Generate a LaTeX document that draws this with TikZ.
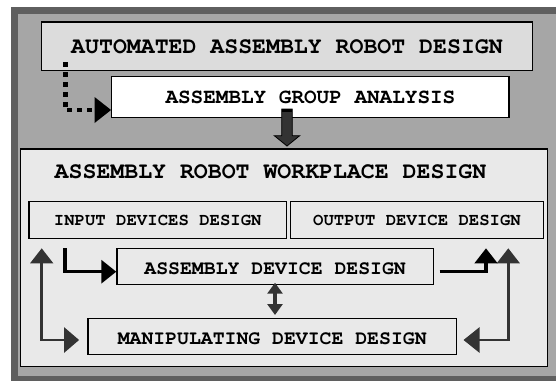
\documentclass[tikz,border=0pt]{standalone}
\usepackage{fontspec}
\setmonofont{TeX Gyre Cursor}
\usetikzlibrary{arrows.meta,calc}
\definecolor{frameDark}{HTML}{5F5F5F}
\definecolor{frameGray}{HTML}{A6A6A6}
\definecolor{boxTop}{HTML}{DCDCDC}
\definecolor{boxWP}{HTML}{E9E9E9}
\definecolor{arrDark}{HTML}{333333}
\begin{document}
\begin{tikzpicture}[x=1pt,y=-1pt,
  box/.style={draw=black, line width=1.4pt, inner sep=0pt, align=center},
  ftA/.style={font=\ttfamily\bfseries\fontsize{23.2pt}{24pt}\selectfont},
  ftB/.style={font=\ttfamily\bfseries\fontsize{21pt}{22pt}\selectfont},
  ftC/.style={font=\ttfamily\bfseries\fontsize{17.3pt}{18pt}\selectfont},
  ftD/.style={font=\ttfamily\bfseries\fontsize{19.8pt}{20pt}\selectfont},
  dotline/.style={line width=4.5pt, dash pattern=on 5pt off 5pt, black},
  blk/.style={line width=3.3pt, black},
  dk/.style={line width=2.8pt, arrDark},
]
\useasboundingbox (0,0) rectangle (556,381);
\fill[white] (0,0) rectangle (556,381);
\fill[frameDark] (11,7) rectangle (556,381);
\fill[frameGray] (18,14) rectangle (556,376);

% boxes
\node[box, ftA, fill=boxTop, minimum width=491pt, minimum height=48.7pt] (top) at (287,46.3) {AUTOMATED ASSEMBLY ROBOT DESIGN};
\node[box, ftB, fill=white, minimum width=397.3pt, minimum height=40.6pt, text height=14pt] (grp) at (310.4,97) {ASSEMBLY GROUP ANALYSIS};
\node[box, fill=boxWP, minimum width=527pt, minimum height=217.5pt] (wp) at (284.2,257.8) {};
\node[ftA, inner sep=0pt] (wptitle) at (270.5,171.7) {ASSEMBLY ROBOT WORKPLACE DESIGN};
\node[box, ftC, minimum width=257.5pt, minimum height=36.6pt] (inp) at (157.75,220) {INPUT DEVICES DESIGN};
\node[box, ftC, minimum width=252.5pt, minimum height=36.6pt] (out) at (417,220) {OUTPUT DEVICE DESIGN};
\node[box, ftD, minimum width=316.3pt, minimum height=36pt, text height=16pt] (asm) at (275.15,266.3) {ASSEMBLY DEVICE DESIGN};
\node[box, ftD, minimum width=368.4pt, minimum height=36pt, text height=16pt] (manip) at (272.2,336.3) {MANIPULATING DEVICE DESIGN};

% dotted arrow from top box to group analysis
\coordinate (dotS) at (65.3,62);
\draw[dotline] (dotS) |- ($(grp.west)+(-15.5,13)$);
\coordinate (dotT) at ($(grp.west)+(0,13)$);
\fill[black] (dotT) -- ($(dotT)+(-16.5,-13)$) -- ($(dotT)+(-16.5,13)$) -- cycle;

% big down arrow
\coordinate (dnS) at (287,109);
\coordinate (dnE) at (287,146);
\filldraw[fill=arrDark, draw=black, line width=0.8pt]
  ($(dnS)+(-5.3,0)$) -- ($(dnS)+(5.3,0)$) -- ($(dnE)+(5.3,-10.3)$) -- ($(dnE)+(12.7,-10.3)$)
  -- (dnE) -- ($(dnE)+(-12.7,-10.3)$) -- ($(dnE)+(-5.3,-10.3)$) -- cycle;
\fill[black] ($(dnS)+(-5.3,0)$) rectangle ($(dnS)+(5.3,3)$);

% input -> assembly
\coordinate (inS) at (65,248.3);
\draw[blk, -{Triangle[length=15pt,width=23pt]}] (inS) |- ($(asm.west)+(0,5.4)$);

% assembly -> output
\coordinate (oS) at ($(asm.east)+(5.7,5.4)$);
\coordinate (oE) at (486,248.3);
\draw[blk, -{Triangle[length=15pt,width=22.4pt]}] (oS) -| (oE);

% right loop
\coordinate (rT) at (508.3,248.3);
\coordinate (rB) at ($(manip.east)+(6.4,3.7)$);
\draw[dk, {Triangle[length=15pt,width=22.6pt]}-{Triangle[length=16pt,width=25pt]}] (rT) |- (rB);

% left loop
\coordinate (lT) at (41.7,248.3);
\coordinate (lB) at ($(manip.west)+(-8.2,3.7)$);
\draw[dk, {Triangle[length=15pt,width=22.6pt]}-{Triangle[length=15pt,width=25pt]}] (lT) |- (lB);

% assembly <-> manipulating
\coordinate (dA) at (275,282.7);
\coordinate (dB) at (275,315);
\draw[line width=4.5pt, arrDark, {Triangle[length=11pt,width=15pt]}-{Triangle[length=11pt,width=15pt]}] (dA) -- (dB);
\end{tikzpicture}
\end{document}
